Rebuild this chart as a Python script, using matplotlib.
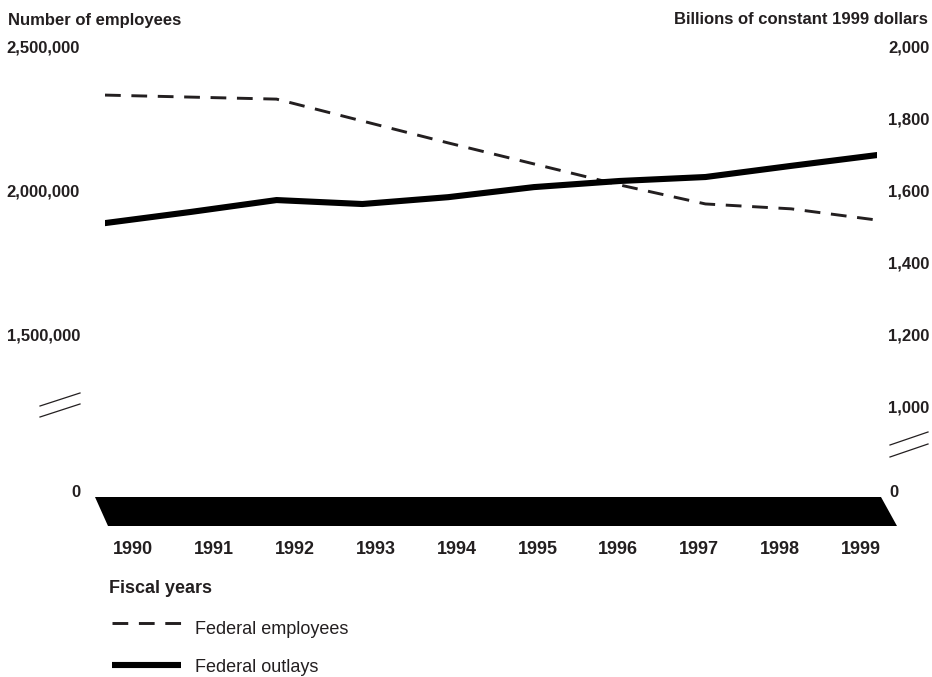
import matplotlib
matplotlib.use("Agg")
import matplotlib.pyplot as plt
from matplotlib.lines import Line2D
from matplotlib.patches import Polygon

plt.rcParams['font.family'] = ['Liberation Sans', 'DejaVu Sans']

years = [1990, 1991, 1992, 1993, 1994, 1995, 1996, 1997, 1998, 1999]
employees = [2332000, 2325000, 2318000, 2242000, 2166000, 2093000, 2020000, 1954000, 1937000, 1898000]
outlays = [1510, 1541, 1574, 1563, 1582, 1610, 1627, 1638, 1669, 1699]
left_ticks = [1500000, 2000000, 2500000]
right_ticks = [1000, 1200, 1400, 1600, 1800, 2000]
series_names = ["Federal employees", "Federal outlays"]

TXT = '#231f20'
W, H = 932, 677
fig = plt.figure(figsize=(W / 100, H / 100), dpi=100)


def rect(x0, y0, x1, y1):
    return [x0 / W, 1 - y1 / H, (x1 - x0) / W, (y1 - y0) / H]


def fx(x):
    return x / W


def fy(y):
    return 1 - y / H


DASH_LW = 2.1
DASHES = (5.4, 3.65)

ax = fig.add_axes(rect(105, 46.7, 877, 406.7))
ax.set_xlim(1990, 1999)
ax.set_ylim(1250000, 2500000)
ax2 = ax.twinx()
ax2.set_ylim(1000, 2000)

l1, = ax.plot(years, employees, color=TXT, lw=DASH_LW, dashes=DASHES, solid_capstyle='butt')
l2, = ax2.plot(years, outlays, color='black', lw=4.4, solid_capstyle='round', solid_joinstyle='round')

for a in (ax, ax2):
    for s in a.spines.values():
        s.set_visible(False)
    a.set_xticks([])
    a.tick_params(length=0)

ax.set_yticks(left_ticks)
ax.set_yticklabels([f"{v:,}" for v in left_ticks], fontsize=12, fontweight='bold', color=TXT)
ax.tick_params(axis='y', pad=18)
ax2.set_yticks(right_ticks)
ax2.set_yticklabels([f"{v:,}" for v in right_ticks], fontsize=12, fontweight='bold', color=TXT)
ax2.tick_params(axis='y', pad=8)

# Axis titles
fig.text(fx(8), fy(20), "Number of employees", fontsize=12, fontweight='bold', color=TXT, va='center', ha='left')
fig.text(fx(928), fy(20), "Billions of constant 1999 dollars", fontsize=12, fontweight='bold', color=TXT,
         va='center', ha='right')

# zero labels
fig.text(fx(80), fy(492.7), "0", fontsize=12, fontweight='bold', color=TXT, va='center', ha='right')
fig.text(fx(889), fy(492.7), "0", fontsize=12, fontweight='bold', color=TXT, va='center', ha='left')

# break marks
for (x0, y0, x1, y1) in [(40, 406, 80, 393), (40, 417, 80, 404), (890, 445, 928, 432), (890, 457, 928, 444)]:
    fig.add_artist(Line2D([fx(x0), fx(x1)], [fy(y0), fy(y1)], color=TXT, lw=0.9, transform=fig.transFigure))

# band axis with year labels
bx0, bx1 = 95, 897
bax = fig.add_axes(rect(bx0, 497, bx1, 526))
span = (bx1 - bx0) * 9 / (861 - 133)
a0 = 1990 - (133 - bx0) / (bx1 - bx0) * span
bax.set_xlim(a0, a0 + span)
bax.set_ylim(0, 1)
bax.add_patch(Polygon([[0, 1], [(881 - bx0) / (bx1 - bx0), 1], [1, 0], [(108 - bx0) / (bx1 - bx0), 0]],
                      closed=True, transform=bax.transAxes, facecolor='black', edgecolor='none'))
for s in bax.spines.values():
    s.set_visible(False)
bax.set_yticks([])
bax.set_xticks(years)
bax.set_xticklabels([str(y) for y in years], fontsize=13, fontweight='bold', color=TXT)
bax.tick_params(axis='x', length=0, pad=11)
bax.set_facecolor('none')

fig.text(fx(109), fy(592.7), "Fiscal years", fontsize=13, fontweight='bold', color=TXT, va='baseline', ha='left')

# legend (manual)
fig.add_artist(Line2D([fx(112), fx(181)], [fy(623), fy(623)], color=TXT, lw=DASH_LW, dashes=DASHES,
                      transform=fig.transFigure))
fig.text(fx(195), fy(633.5), series_names[0], fontsize=13, color=TXT, va='baseline', ha='left')
fig.add_artist(Line2D([fx(112), fx(181)], [fy(665), fy(665)], color='black', lw=4.4, solid_capstyle='butt',
                      transform=fig.transFigure))
fig.text(fx(195), fy(671.5), series_names[1], fontsize=13, color=TXT, va='baseline', ha='left')

fig.savefig("out.png", dpi=100)
